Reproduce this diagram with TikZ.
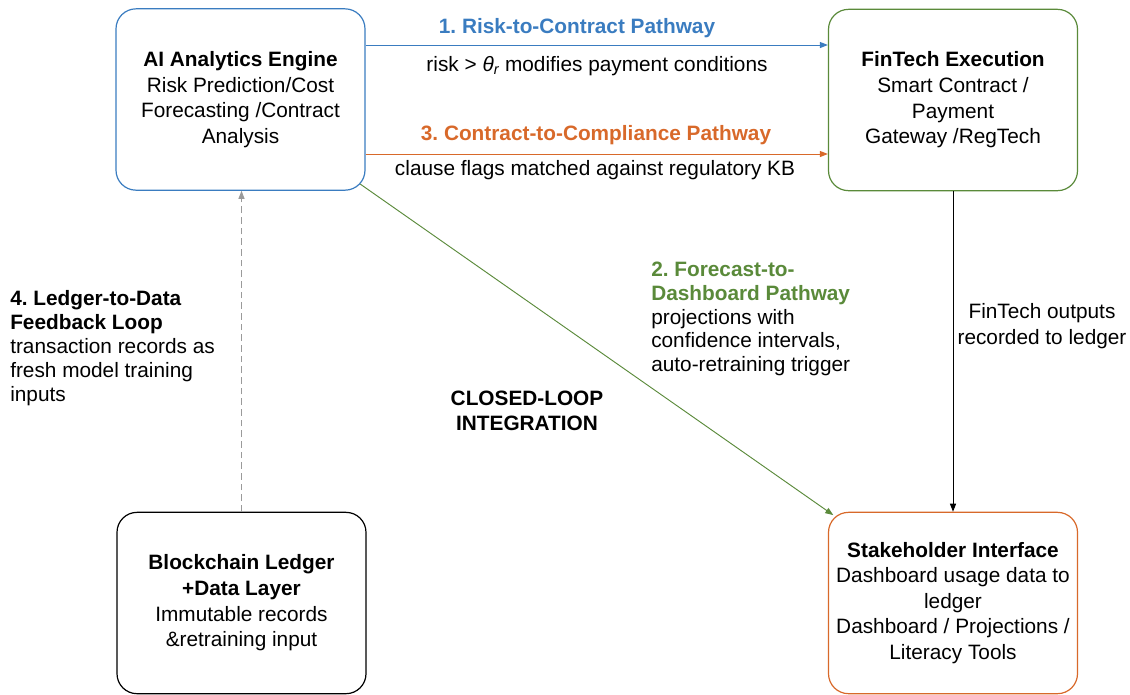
\documentclass[tikz,border=0pt]{standalone}
\usepackage{fontspec}
\setmainfont{Liberation Sans}
\usetikzlibrary{arrows.meta}
\definecolor{pathblue}{HTML}{3A7CC0}
\definecolor{pathorange}{HTML}{D8692A}
\definecolor{pathgreen}{HTML}{5A8A3A}
\definecolor{loopgray}{HTML}{9A9A9A}
\frenchspacing
\begin{document}
\begin{tikzpicture}[x=0.75pt,y=-0.75pt,
  block/.style={draw, rounded corners=15pt, minimum width=186.75pt,
    minimum height=136pt, align=center, inner sep=0pt, line width=0.9pt,
    font=\fontsize{15.6}{19.2}\selectfont},
  lbl/.style={inner sep=0pt, font=\fontsize{15.6}{18}\selectfont},
  link/.style={line width=0.7pt, -{Triangle[length=6pt,width=4.5pt]}}
]
\useasboundingbox (0,0) rectangle (1130,694);

% the four building blocks
\node[block, draw=pathblue] (ai) at (240.5,99.5)
  {\textbf{AI Analytics Engine}\\Risk Prediction/Cost\\Forecasting /Contract\\Analysis};
\node[block, draw=pathgreen] (fin) at (953,100)
  {\textbf{FinTech Execution}\\Smart Contract /\\Payment\\Gateway /RegTech};
\node[block, draw=black] (bc) at (241.5,603)
  {\textbf{Blockchain Ledger}\\\textbf{+Data Layer}\\Immutable records\\\&retraining input};
\node[block, draw=pathorange] (sh) at (953,603)
  {\textbf{Stakeholder Interface}\\Dashboard usage data to\\ledger\\Dashboard / Projections /\\Literacy Tools};

% pathway levels
\coordinate (yblue) at (600,45);
\coordinate (yorange) at (600,154);

% 1. risk-to-contract
\draw[link, pathblue] (ai.east |- yblue) -- (fin.west |- yblue);
\node[lbl, text=pathblue, font=\fontsize{15.6}{18}\selectfont\bfseries] (t1) at (577,28) {1. Risk-to-Contract Pathway};
\node[lbl] (s1) at (597,66) {risk > {\itshape θ\textsubscript{r}} modifies payment conditions};

% 3. contract-to-compliance
\draw[link, pathorange] (ai.east |- yorange) -- (fin.west |- yorange);
\node[lbl, text=pathorange, font=\fontsize{15.6}{18}\selectfont\bfseries] (t3) at (596,135) {3. Contract-to-Compliance Pathway};
\node[lbl] (s3) at (595,170) {clause flags matched against regulatory KB};

% 2. forecast-to-dashboard
\draw[link, pathgreen] ([xshift=-4pt,yshift=5pt]ai.south east) -- ([xshift=4pt,yshift=-2.5pt]sh.north west);
\node[lbl, anchor=west, align=left, font=\fontsize{15.6}{17.7}\selectfont] (t2) at (651,319)
  {\textcolor{pathgreen}{\bfseries 2. Forecast-to-}\\\textcolor{pathgreen}{\bfseries Dashboard Pathway}\\projections with\\confidence intervals,\\auto-retraining trigger};

% fintech outputs to the ledger
\draw[link, black] (fin.south) -- (sh.north);
\node[lbl, align=center, font=\fontsize{15.6}{19}\selectfont] (t5) at (1042,326) {FinTech outputs\\recorded to ledger};

% 4. ledger-to-data feedback loop
\draw[link, loopgray, dashed, dash pattern=on 5pt off 3pt] (bc.north) -- (bc.north |- ai.south);
\node[lbl, anchor=west, align=left] (t4) at (10,348)
  {\bfseries 4. Ledger-to-Data\\\bfseries Feedback Loop\\transaction records as\\fresh model training\\inputs};

% centre caption
\node[lbl, align=center, font=\fontsize{15.6}{18.8}\selectfont\bfseries] (cap) at (527,411)
  {CLOSED-LOOP\\INTEGRATION};
\end{tikzpicture}
\end{document}
